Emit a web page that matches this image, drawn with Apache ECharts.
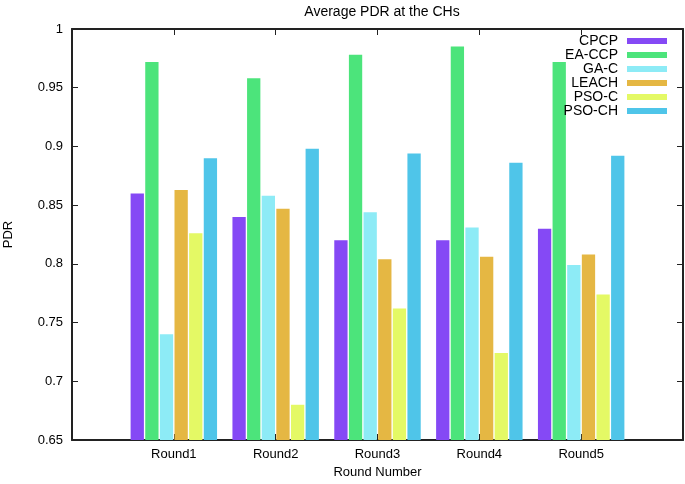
<!DOCTYPE html>
<html>
<head>
<meta charset="utf-8">
<script src="https://cdn.jsdelivr.net/npm/echarts@6/dist/echarts.min.js"></script>
<style>html,body{margin:0;padding:0;background:#fff}#c{width:685px;height:484px}</style>
</head>
<body>
<div id="c"></div>
<script>
const rounds = ['Round1', 'Round2', 'Round3', 'Round4', 'Round5'];
const seriesNames = ['CPCP', 'EA-CCP', 'GA-C', 'LEACH', 'PSO-C', 'PSO-CH'];
const CPCP   = [0.860, 0.840, 0.820, 0.820, 0.830];
const EA_CCP = [0.972, 0.958, 0.978, 0.985, 0.972];
const GA_C   = [0.740, 0.858, 0.844, 0.831, 0.799];
const LEACH  = [0.863, 0.847, 0.804, 0.806, 0.808];
const PSO_C  = [0.826, 0.680, 0.762, 0.724, 0.774];
const PSO_CH = [0.890, 0.898, 0.894, 0.886, 0.892];
const colors = ['#8549F5', '#4CE47B', '#8DEBF6', '#E5B743', '#E4F965', '#4FC5E9'];
const yMin = 0.65, yMax = 1, yStep = 0.05;

const allValues = [CPCP, EA_CCP, GA_C, LEACH, PSO_C, PSO_CH];
const cats = [''].concat(rounds, ['']);
const FONT = 'Liberation Sans, Arial, sans-serif';
const frameLine = {show: true, onZero: false, lineStyle: {color: '#222', width: 2}};

const chart = echarts.init(document.getElementById('c'), null, {renderer: 'canvas'});
const xBase = {
  type: 'category', data: cats, boundaryGap: false,
  axisLine: frameLine,
  axisTick: {show: true, inside: true, length: 6, lineStyle: {color: '#222', width: 1}},
  splitLine: {show: false}
};
const yBase = {
  type: 'value', min: yMin, max: yMax, interval: yStep,
  axisLine: frameLine,
  axisTick: {show: true, inside: true, length: 6, lineStyle: {color: '#222', width: 1}},
  splitLine: {show: false}
};
chart.setOption({
  animation: false,
  textStyle: {fontFamily: FONT},
  title: {
    text: 'Average PDR at the CHs', left: 377, top: 0, textAlign: 'center',
    textStyle: {fontFamily: FONT, fontSize: 14, fontWeight: 'normal', color: '#000'}
  },
  legend: {
    orient: 'vertical', right: 18, top: 34, padding: 0, itemGap: 0,
    align: 'right', itemWidth: 40, itemHeight: 6, icon: 'rect',
    data: seriesNames,
    textStyle: {fontFamily: FONT, fontSize: 14, color: '#000', lineHeight: 14, padding: [0, 4, 0, 0]}
  },
  grid: {left: 72, right: 2, top: 29, bottom: 44, containLabel: false, outerBoundsMode: 'none'},
  xAxis: [
    Object.assign({}, xBase, {
      position: 'bottom',
      name: 'Round Number', nameLocation: 'middle', nameGap: 26,
      nameTextStyle: {fontFamily: FONT, fontSize: 13, color: '#000'},
      axisLabel: {margin: 8, fontFamily: FONT, fontSize: 13, color: '#000'}
    }),
    Object.assign({}, xBase, {position: 'top', axisLabel: {show: false}})
  ],
  yAxis: [
    Object.assign({}, yBase, {
      position: 'left',
      name: 'PDR', nameLocation: 'middle', nameGap: 57, nameRotate: 90,
      nameTextStyle: {fontFamily: FONT, fontSize: 13, color: '#000'},
      axisLabel: {margin: 9, fontFamily: FONT, fontSize: 13, color: '#000'}
    }),
    Object.assign({}, yBase, {position: 'right', axisLabel: {show: false}})
  ],
  series: seriesNames.map((n, i) => ({
    name: n, type: 'bar', xAxisIndex: 0, yAxisIndex: 0,
    barWidth: 13.3, barGap: '10%',
    itemStyle: {color: colors[i]},
    data: ['-'].concat(allValues[i], ['-'])
  }))
});
</script>
</body>
</html>
